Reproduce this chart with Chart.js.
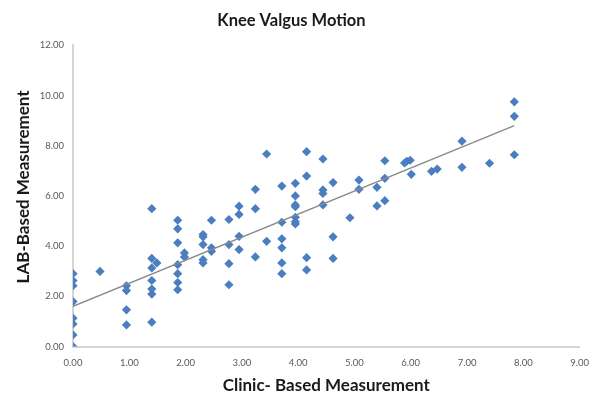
<!DOCTYPE html>
<html>
<head>
<meta charset="utf-8">
<script src="https://cdn.jsdelivr.net/npm/chart.js@4/dist/chart.umd.min.js"></script>
<style>
  html, body { margin: 0; padding: 0; background: #ffffff; }
  #wrap { width: 600px; height: 409px; }
</style>
</head>
<body>
<div id="wrap"><canvas id="c" width="600" height="409"></canvas></div>
<script>
// Clinic-based (x) and LAB-based (y) measurements, paired by index
const clinicX = [
  0, 0, 0, 0, 0, 0, 0, 0,
  0.48,
  0.95, 0.95, 0.95, 0.95,
  1.40, 1.40, 1.40, 1.40, 1.40, 1.40, 1.40,
  1.49,
  1.86, 1.86, 1.86, 1.86, 1.86, 1.86, 1.86,
  1.98, 1.98,
  2.31, 2.31, 2.31, 2.31, 2.31,
  2.46, 2.46, 2.46,
  2.77, 2.77, 2.77, 2.77,
  2.95, 2.95, 2.95, 2.95,
  3.24, 3.24, 3.24,
  3.44, 3.44,
  3.71, 3.71, 3.71, 3.71, 3.71, 3.71,
  3.95, 3.95, 3.95, 3.95, 3.95, 3.95, 3.95,
  4.15, 4.15, 4.15, 4.15,
  4.44, 4.44, 4.44, 4.44,
  4.62, 4.62, 4.62,
  4.92,
  5.08, 5.08,
  5.40, 5.40,
  5.54, 5.54, 5.54,
  5.89, 5.93, 5.99, 6.01,
  6.37, 6.47,
  6.91, 6.91,
  7.40,
  7.84, 7.84, 7.84
];
const labY = [
  2.90, 2.63, 2.42, 1.79, 1.13, 0.90, 0.46, 0.00,
  2.99,
  2.42, 2.23, 1.46, 0.86,
  5.49, 3.51, 3.13, 2.63, 2.29, 2.09, 0.97,
  3.33,
  5.03, 4.69, 4.13, 3.26, 2.90, 2.55, 2.26,
  3.73, 3.57,
  4.46, 4.37, 4.06, 3.46, 3.33,
  5.03, 3.93, 3.79,
  5.06, 4.06, 3.30, 2.46,
  5.59, 5.26, 4.39, 3.86,
  6.26, 5.49, 3.57,
  7.67, 4.19,
  6.39, 4.95, 4.29, 3.93, 3.33, 2.90,
  6.50, 6.00, 5.64, 5.57, 5.15, 4.97, 4.88,
  7.76, 6.79, 3.54, 3.05,
  7.47, 6.24, 6.10, 5.64,
  6.53, 4.37, 3.51,
  5.13,
  6.63, 6.26,
  6.34, 5.60,
  7.40, 6.70, 5.81,
  7.31, 7.38, 7.42, 6.86,
  6.98, 7.07,
  8.18, 7.14,
  7.30,
  9.75, 9.17, 7.64
];
// Linear trendline end points
const trendX = [0, 7.84];
const trendY = [1.60, 8.80];

const xTickValues = [0, 1, 2, 3, 4, 5, 6, 7, 8, 9];
const yTickValues = [0, 2, 4, 6, 8, 10, 12];

const chartTitle = 'Knee Valgus Motion';
const xTitle = 'Clinic- Based Measurement';
const yTitle = 'LAB-Based Measurement';

const scatterData = clinicX.map((x, i) => ({ x: x, y: labY[i] }));
const trendData = trendX.map((x, i) => ({ x: x, y: trendY[i] }));

const FONT = 'Lato, "Open Sans", "Liberation Sans", sans-serif';

// Y axis title drawn slightly above the plot centre, as in the reference
const yTitlePlugin = {
  id: 'yTitlePlugin',
  afterDraw(chart) {
    const ctx = chart.ctx;
    const area = chart.chartArea;
    ctx.save();
    ctx.translate(24, (area.top + area.bottom) / 2 - 9);
    ctx.rotate(-Math.PI / 2);
    ctx.font = 'bold 17px ' + FONT;
    ctx.fillStyle = '#1a1a1a';
    ctx.textAlign = 'center';
    ctx.textBaseline = 'middle';
    ctx.fillText(yTitle, 0, 0);
    ctx.restore();
  }
};

new Chart(document.getElementById('c'), {
  type: 'scatter',
  data: {
    datasets: [
      {
        label: 'Measurements',
        data: scatterData,
        pointStyle: 'rectRot',
        pointRadius: 4.6,
        pointHoverRadius: 4.6,
        backgroundColor: '#4A7EBF',
        borderColor: '#4A7EBF',
        borderWidth: 0,
        order: 2
      },
      {
        label: 'Trend',
        type: 'line',
        data: trendData,
        showLine: true,
        pointRadius: 0,
        borderColor: '#8a8a8a',
        borderWidth: 1.5,
        fill: false,
        order: 1
      }
    ]
  },
  plugins: [yTitlePlugin],
  options: {
    responsive: false,
    animation: false,
    devicePixelRatio: 1,
    layout: { padding: { left: 0, right: 17, top: 0, bottom: 0 } },
    plugins: {
      legend: { display: false },
      tooltip: { enabled: false },
      title: {
        display: true,
        text: chartTitle,
        color: '#1a1a1a',
        font: { family: FONT, size: 16.5, weight: 'bold' },
        padding: { top: 11, bottom: 14.5 }
      }
    },
    scales: {
      x: {
        type: 'linear',
        min: 0,
        max: 9,
        afterBuildTicks: (s) => { s.ticks = xTickValues.map(v => ({ value: v })); },
        afterFit: (s) => { s.height = 62.5; },
        grid: { display: false, drawTicks: false },
        border: { display: true, color: '#d4d4d4', width: 2 },
        ticks: {
          padding: 11,
          color: '#595959',
          font: { family: FONT, size: 9.5 },
          callback: (v) => Number(v).toFixed(2)
        },
        title: {
          display: true,
          text: xTitle,
          color: '#1a1a1a',
          font: { family: FONT, size: 17, weight: 'bold' },
          padding: { top: 0, bottom: 13 }
        }
      },
      y: {
        type: 'linear',
        min: 0,
        max: 12,
        afterBuildTicks: (s) => { s.ticks = yTickValues.map(v => ({ value: v })); },
        afterFit: (s) => { s.width = 73; },
        grid: { display: false, drawTicks: false },
        border: { display: true, color: '#d4d4d4', width: 2 },
        ticks: {
          padding: 9,
          color: '#595959',
          font: { family: FONT, size: 9.5 },
          callback: (v) => Number(v).toFixed(2)
        },
        title: { display: false }
      }
    }
  }
});
</script>
</body>
</html>
